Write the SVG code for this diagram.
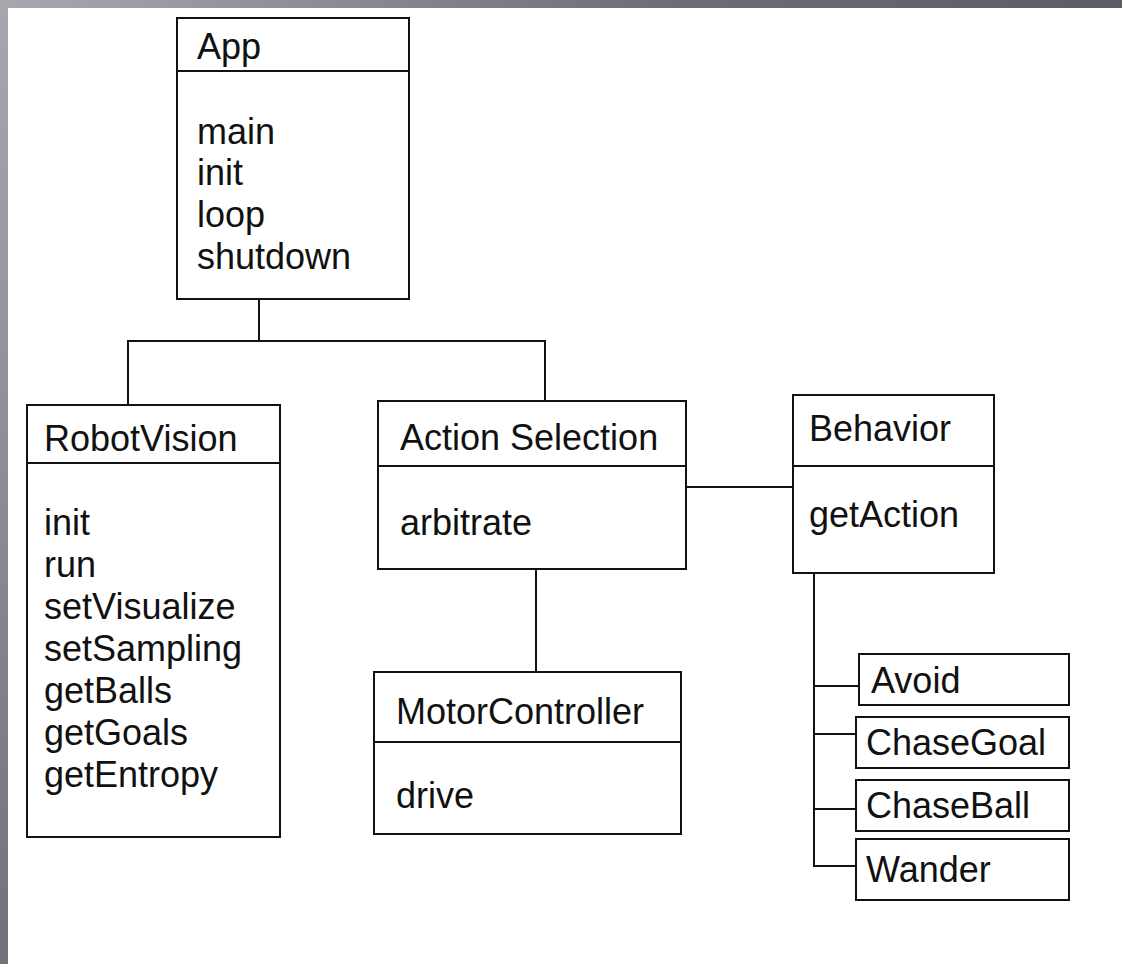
<svg xmlns="http://www.w3.org/2000/svg" width="1122" height="964" viewBox="0 0 1122 964">
  <defs>
    <linearGradient id="topbar" x1="0" y1="0" x2="1" y2="0">
      <stop offset="0" stop-color="#aaa8ae"/>
      <stop offset="0.6" stop-color="#6f6c74"/>
      <stop offset="1" stop-color="#5e5b62"/>
    </linearGradient>
    <linearGradient id="leftbar" x1="0" y1="0" x2="0" y2="1">
      <stop offset="0" stop-color="#a9a7ad"/>
      <stop offset="1" stop-color="#737178"/>
    </linearGradient>
    <style>
      .box { fill: #ffffff; stroke: #111111; stroke-width: 2; }
      .div { stroke: #111111; stroke-width: 2; }
      .conn line { stroke: #111111; stroke-width: 2; }
      text { font-family: "Liberation Sans", Arial, sans-serif; font-size: 36px; fill: #111111; }
    </style>
  </defs>
  <rect x="0" y="0" width="1122" height="964" fill="#ffffff"/>
  <rect x="0" y="0" width="1122" height="8" fill="url(#topbar)"/>
  <rect x="0" y="0" width="8" height="964" fill="url(#leftbar)"/>

  <g id="connectors" class="conn">
    <line x1="259" y1="299" x2="259" y2="341"/>
    <line x1="127" y1="341" x2="546" y2="341"/>
    <line x1="128" y1="341" x2="128" y2="405"/>
    <line x1="545" y1="341" x2="545" y2="401"/>
    <line x1="686" y1="487" x2="793" y2="487"/>
    <line x1="536" y1="569" x2="536" y2="672"/>
    <line x1="814" y1="573" x2="814" y2="867"/>
    <line x1="814" y1="686" x2="859" y2="686"/>
    <line x1="814" y1="734" x2="856" y2="734"/>
    <line x1="814" y1="809" x2="856" y2="809"/>
    <line x1="813" y1="866" x2="856" y2="866"/>
  </g>

  <g id="App">
    <rect class="box" x="177" y="18" width="232" height="281"/>
    <line class="div" x1="177" y1="71" x2="409" y2="71"/>
    <text x="197" y="59">App</text>
    <text x="197" y="144">main</text>
    <text x="197" y="185">init</text>
    <text x="197" y="227">loop</text>
    <text x="197" y="269">shutdown</text>
  </g>

  <g id="RobotVision">
    <rect class="box" x="27" y="405" width="253" height="432"/>
    <line class="div" x1="27" y1="463" x2="280" y2="463"/>
    <text x="44" y="451">RobotVision</text>
    <text x="44" y="535">init</text>
    <text x="44" y="577">run</text>
    <text x="44" y="619">setVisualize</text>
    <text x="44" y="661">setSampling</text>
    <text x="44" y="703">getBalls</text>
    <text x="44" y="745">getGoals</text>
    <text x="44" y="787">getEntropy</text>
  </g>

  <g id="ActionSelection">
    <rect class="box" x="378" y="401" width="308" height="168"/>
    <line class="div" x1="378" y1="466" x2="686" y2="466"/>
    <text x="400" y="450">Action Selection</text>
    <text x="400" y="535">arbitrate</text>
  </g>

  <g id="MotorController">
    <rect class="box" x="374" y="672" width="307" height="162"/>
    <line class="div" x1="374" y1="742" x2="681" y2="742"/>
    <text x="396" y="724">MotorController</text>
    <text x="396" y="808">drive</text>
  </g>

  <g id="Behavior">
    <rect class="box" x="793" y="395" width="201" height="178"/>
    <line class="div" x1="793" y1="466" x2="994" y2="466"/>
    <text x="809" y="441">Behavior</text>
    <text x="809" y="527">getAction</text>
  </g>

  <g id="Avoid">
    <rect class="box" x="859" y="654" width="210" height="51"/>
    <text x="871" y="693">Avoid</text>
  </g>
  <g id="ChaseGoal">
    <rect class="box" x="856" y="717" width="213" height="51"/>
    <text x="866" y="755">ChaseGoal</text>
  </g>
  <g id="ChaseBall">
    <rect class="box" x="856" y="780" width="213" height="51"/>
    <text x="866" y="818">ChaseBall</text>
  </g>
  <g id="Wander">
    <rect class="box" x="856" y="839" width="213" height="61"/>
    <text x="866" y="882">Wander</text>
  </g>
</svg>
